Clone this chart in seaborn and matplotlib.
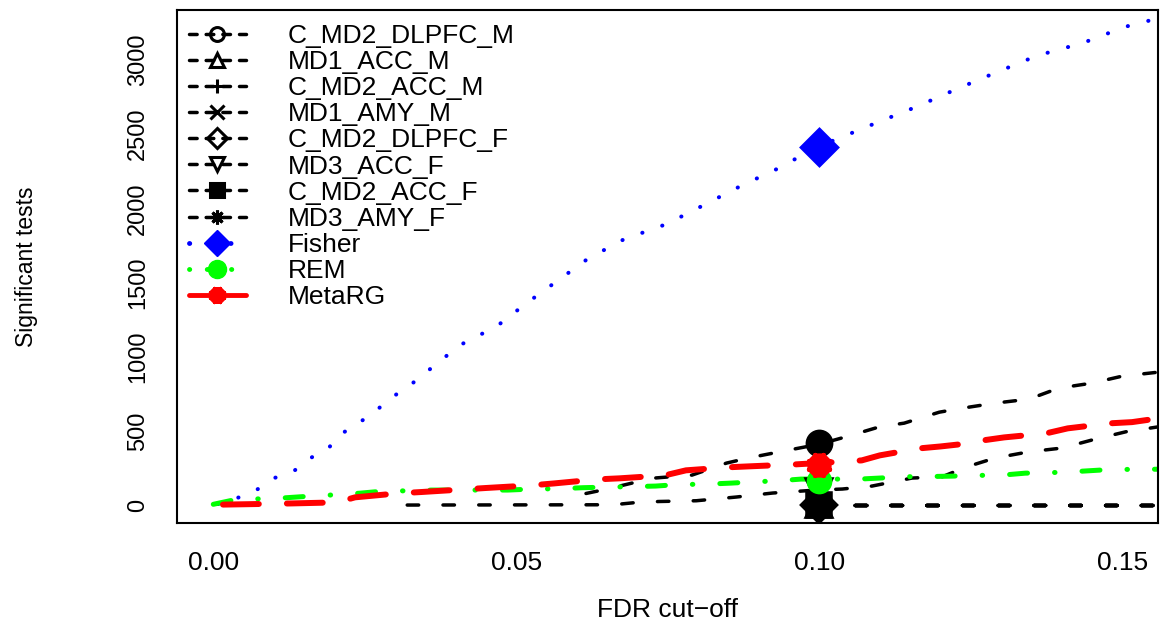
import numpy as np
import pandas as pd
import matplotlib
matplotlib.use("Agg")
import matplotlib.pyplot as plt
import seaborn as sns
from matplotlib.lines import Line2D

# ---------------- data ----------------
series_names = ["C_MD2_DLPFC_M", "MD1_ACC_M", "C_MD2_ACC_M", "MD1_AMY_M",
                "C_MD2_DLPFC_F", "MD3_ACC_F", "C_MD2_ACC_F", "MD3_AMY_F",
                "Fisher", "REM", "MetaRG"]

# dataset with most significant tests (upper black dashed line)
c_md2_dlpfc_m_x = [0.0615, 0.065, 0.0698, 0.0728, 0.079, 0.0847, 0.0885, 0.095, 0.100,
                   0.1044, 0.110, 0.114, 0.1198, 0.1236, 0.129, 0.1346, 0.1395, 0.145,
                   0.150, 0.158]
c_md2_dlpfc_m_y = [78, 108, 155, 182, 202, 283, 319, 371, 410,
                   460, 528, 552, 626, 653, 687, 714, 788, 822,
                   869, 905]

# second rising black dashed line
md3_acc_f_x = [0.032, 0.066, 0.070, 0.0736, 0.0797, 0.0863, 0.0923, 0.0995, 0.1038,
               0.1087, 0.1153, 0.1203, 0.1242, 0.129, 0.1346, 0.140, 0.1456, 0.1506,
               0.158]
md3_acc_f_y = [0, 2, 18, 24, 29, 54, 81, 101, 108,
               128, 182, 191, 256, 317, 359, 384, 445, 494,
               540]

# datasets with no significant tests
zero_x = [0.10, 0.158]
zero_y = [0, 0]

fisher_x = [0.0008, 0.0044, 0.0077, 0.0102, 0.0135, 0.016, 0.019, 0.0208, 0.0234,
            0.0262, 0.0285, 0.031, 0.0336, 0.0359, 0.0407, 0.0468, 0.0517, 0.0567,
            0.0618, 0.0677, 0.0748, 0.0807, 0.087, 0.0932, 0.0997, 0.1025, 0.1094,
            0.116, 0.1226, 0.129, 0.136, 0.1435, 0.1504, 0.154, 0.158]
fisher_y = [7, 54, 114, 184, 236, 316, 383, 471, 539,
            613, 694, 770, 842, 921, 1078, 1206, 1361, 1509,
            1660, 1790, 1894, 2017, 2150, 2269, 2415, 2460, 2576,
            2684, 2803, 2913, 3030, 3115, 3223, 3261, 3300]

rem_x = [0.0, 0.004, 0.008, 0.0119, 0.016, 0.020, 0.0242, 0.028, 0.032, 0.036,
         0.0445, 0.0486, 0.0527, 0.057, 0.061, 0.065, 0.069, 0.073, 0.077, 0.081,
         0.0855, 0.0896, 0.0934, 0.097, 0.1066, 0.110, 0.114, 0.118, 0.122, 0.126,
         0.130, 0.134, 0.138, 0.142, 0.1465, 0.150, 0.158]
rem_y = [5, 40, 42, 49, 60, 69, 80, 94, 96, 101,
         101, 101, 108, 110, 117, 121, 124, 128, 139, 140,
         148, 157, 164, 175, 175, 182, 191, 192, 195, 200,
         201, 215, 218, 225, 236, 240, 242]

metarg_x = [0.0016, 0.009, 0.013, 0.0204, 0.0234, 0.0305, 0.0344, 0.0415, 0.045,
            0.0526, 0.0563, 0.0633, 0.067, 0.0745, 0.078, 0.0847, 0.0885, 0.096,
            0.1028, 0.107, 0.110, 0.1165, 0.120, 0.1247, 0.127, 0.1305, 0.1374,
            0.141, 0.148, 0.1516, 0.158]
metarg_y = [3, 8, 11, 18, 52, 79, 88, 106, 115,
            133, 146, 173, 180, 200, 234, 254, 261, 274,
            290, 301, 335, 382, 395, 416, 436, 456, 483,
            517, 551, 559, 596]

# counts at the highlighted FDR cut-off of 0.10
fdr_mark = 0.10
mark_counts = [416, 0, 0, 0, 0, 94, 0, 0, 2415, 162, 273]

x_ticks = [0.00, 0.05, 0.10, 0.15]
x_tick_labels = ["0.00", "0.05", "0.10", "0.15"]
y_ticks = [0, 500, 1000, 1500, 2000, 2500, 3000]
y_tick_labels = ["0", "500", "1000", "1500", "2000", "2500", "3000"]

# ---------------- build long table ----------------
series_data = {
    "C_MD2_DLPFC_M": (c_md2_dlpfc_m_x, c_md2_dlpfc_m_y),
    "MD1_ACC_M": (zero_x, zero_y),
    "C_MD2_ACC_M": (zero_x, zero_y),
    "MD1_AMY_M": (zero_x, zero_y),
    "C_MD2_DLPFC_F": (zero_x, zero_y),
    "MD3_ACC_F": (md3_acc_f_x, md3_acc_f_y),
    "C_MD2_ACC_F": (zero_x, zero_y),
    "MD3_AMY_F": (zero_x, zero_y),
    "Fisher": (fisher_x, fisher_y),
    "REM": (rem_x, rem_y),
    "MetaRG": (metarg_x, metarg_y),
}
rows = []
for name in series_names:
    xs, ys = series_data[name]
    for xv, yv in zip(xs, ys):
        rows.append({"series": name, "fdr": xv, "count": yv})
df = pd.DataFrame(rows)

# ---------------- styles ----------------
black_names = series_names[:8]
palette = {n: "black" for n in black_names}
palette.update({"Fisher": "#0000FF", "REM": "#00FF00", "MetaRG": "#FF0000"})

black_dash = (3.3, 7.0)
dashes = {n: black_dash for n in black_names}
dashes.update({"Fisher": (0.05, 5.2), "REM": (3.6, 5.4, 0.1, 5.4), "MetaRG": (6.0, 4.7)})

sizes = {n: 2.5 for n in black_names}
sizes.update({"Fisher": 2.9, "REM": 3.6, "MetaRG": 4.3})

markers = {"C_MD2_DLPFC_M": "o", "MD1_ACC_M": "^", "C_MD2_ACC_M": "+", "MD1_AMY_M": "x",
           "C_MD2_DLPFC_F": "D", "MD3_ACC_F": "v", "C_MD2_ACC_F": "s", "MD3_AMY_F": (8, 2, 0),
           "Fisher": "D", "REM": "o", "MetaRG": (8, 2, 0)}
open_markers = {"C_MD2_DLPFC_M", "MD1_ACC_M", "C_MD2_DLPFC_F", "MD3_ACC_F"}

# ---------------- figure ----------------
sns.set_style("white")
plt.rcParams["font.family"] = ["Liberation Sans", "DejaVu Sans"]
plt.rcParams["text.color"] = "black"
plt.rcParams["axes.labelcolor"] = "black"

W, H = 1160, 629
fig = plt.figure(figsize=(W / 100, H / 100), dpi=100)
ax_left, ax_right, ax_top, ax_bottom = 177, 1158, 10, 523
ax = fig.add_axes([ax_left / W, (H - ax_bottom) / H,
                   (ax_right - ax_left) / W, (ax_bottom - ax_top) / H])

sns.lineplot(data=df, x="fdr", y="count", hue="series", style="series", size="series",
             hue_order=series_names, style_order=series_names, size_order=series_names,
             palette=palette, dashes=dashes, sizes=sizes, legend=False,
             errorbar=None, estimator=None, sort=False, ax=ax,
             dash_capstyle="round", solid_capstyle="round")

# highlighted points at FDR = 0.10
for name, cnt in zip(series_names, mark_counts):
    col = palette[name]
    if name == "Fisher":
        ms, mew = 17, 3.5
    elif name == "MetaRG":
        ms, mew = 17, 9
    elif name == "REM":
        ms, mew = 15, 3.5
    else:
        ms, mew = 16, 4
    ax.plot([fdr_mark], [cnt], linestyle="none", marker=markers[name], ms=ms,
            mfc=col, mec=col, mew=mew, zorder=5)

ax.set_xlim(-0.00599, 0.15589)
ax.set_ylim(-121, 3337)
ax.set_xticks(x_ticks)
ax.set_xticklabels(x_tick_labels)
ax.set_yticks(y_ticks)
ax.set_yticklabels(y_tick_labels, rotation=90, va="center")

ax.tick_params(axis="both", direction="out", length=12, width=1.2, color="black",
               labelcolor="black")
ax.tick_params(axis="x", labelsize=19, pad=8)
ax.tick_params(axis="y", labelsize=17, pad=8)
for sp in ax.spines.values():
    sp.set_visible(True)
    sp.set_color("black")
    sp.set_linewidth(1.5)

ax.set_xlabel("FDR cut\u2212off", fontsize=19, color="black")
ax.set_ylabel("Significant tests", fontsize=16.5, color="black")
ax.xaxis.set_label_coords(0.5, (ax_bottom - 610) / (ax_bottom - ax_top))
ax.xaxis.label.set_va("center")
ax.yaxis.set_label_coords((27 - ax_left) / (ax_right - ax_left), 0.5)
ax.yaxis.label.set_va("center")

# legend
handles = []
for name in series_names:
    col = palette[name]
    if name in black_names:
        mfc = "none" if name in open_markers else col
        h = Line2D([], [], color=col, lw=2.5, linestyle=(0, (2.2, 2.6)),
                   dash_capstyle="round", marker=markers[name], ms=10,
                   mfc=mfc, mec=col, mew=2.2)
    elif name == "Fisher":
        h = Line2D([], [], color=col, lw=3.5, linestyle=(0, (0.05, 4.2)),
                   dash_capstyle="round", marker="D", ms=13, mfc=col, mec=col, mew=1)
    elif name == "REM":
        h = Line2D([], [], color=col, lw=3.5, linestyle=(0, (0.05, 3.6, 2.0, 3.0)),
                   dash_capstyle="round", marker="o", ms=13, mfc=col, mec=col, mew=1)
    else:
        h = Line2D([], [], color=col, lw=3.5, linestyle="-", solid_capstyle="round",
                   marker=markers[name], ms=12, mfc=col, mec=col, mew=6)
    handles.append(h)

leg = ax.legend(handles, series_names, loc="upper left",
                bbox_to_anchor=(189 / W, 1 - 24 / H), bbox_transform=fig.transFigure,
                frameon=False, fontsize=19, handlelength=2.15, handletextpad=1.6,
                labelspacing=0.08, borderpad=0, borderaxespad=0)
for t in leg.get_texts():
    t.set_color("black")

fig.savefig("out.png", dpi=100)
